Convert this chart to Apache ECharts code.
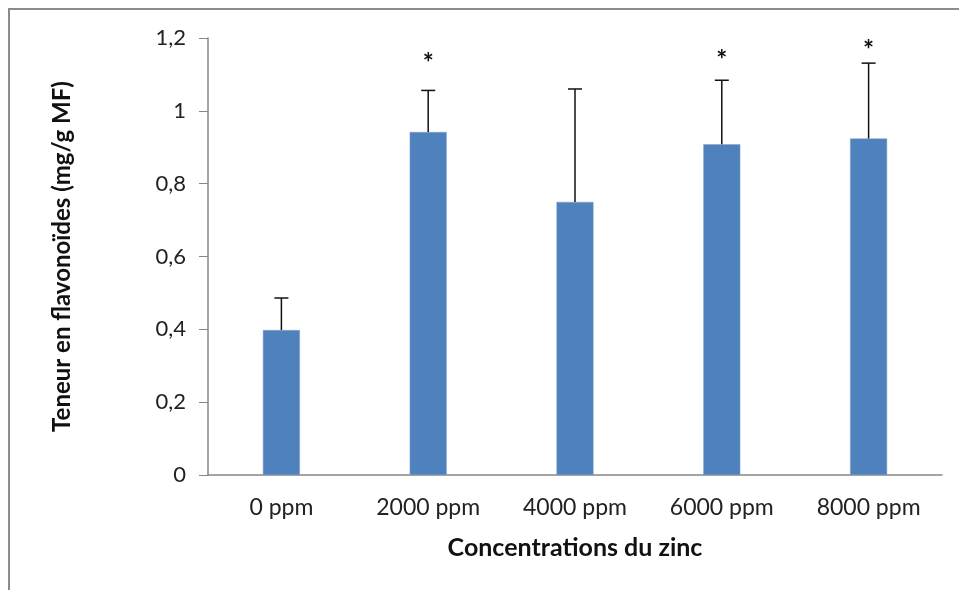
<!DOCTYPE html>
<html><head><meta charset="utf-8">
<script src="https://cdn.jsdelivr.net/npm/echarts@6/dist/echarts.min.js"></script>
<style>html,body{margin:0;padding:0;background:#fff}#c{width:959px;height:590px}</style>
</head><body><div id="c"></div>
<script>
const categories = ['0 ppm', '2000 ppm', '4000 ppm', '6000 ppm', '8000 ppm'];
const means = [0.398, 0.942, 0.750, 0.908, 0.924];
const errors = [0.088, 0.114, 0.310, 0.176, 0.207];
const stars = ['', '*', '', '*', '*'];
const starValues = [null, 1.142, null, 1.148, 1.175];
const yTicks = [0, 0.2, 0.4, 0.6, 0.8, 1, 1.2];

const font = 'Lato, "Open Sans", sans-serif';
const chart = echarts.init(document.getElementById('c'));
chart.setOption({
  animation: false,
  backgroundColor: '#fff',
  graphic: [{
    type: 'rect', shape: {x: 9, y: 9, width: 1000, height: 700},
    style: {fill: 'none', stroke: '#8c8c8c', lineWidth: 2}, silent: true
  }],
  grid: {left: 208, right: 17, top: 38, bottom: 115},
  xAxis: {
    type: 'category', data: categories,
    axisLine: {lineStyle: {color: '#868686', width: 1.5}},
    axisTick: {show: false},
    axisLabel: {color: '#222', fontFamily: font, fontSize: 23, margin: 21},
    name: 'Concentrations du zinc', nameLocation: 'middle', nameGap: 60,
    nameTextStyle: {color: '#111', fontFamily: font, fontSize: 25, fontWeight: 'bold'}
  },
  yAxis: {
    type: 'value', min: 0, max: 1.2, interval: 0.2,
    axisLine: {show: true, lineStyle: {color: '#868686', width: 1.5}},
    axisTick: {show: true, length: 9, lineStyle: {color: '#868686'}},
    splitLine: {show: false},
    axisLabel: {color: '#222', fontFamily: font, fontSize: 22, margin: 22,
      formatter: v => { const t = yTicks.find(x => Math.abs(x - v) < 1e-9); return String(t !== undefined ? t : v).replace('.', ','); }},
    name: 'Teneur en flavonoïdes (mg/g MF)', nameLocation: 'middle', nameGap: 134, nameRotate: 90,
    nameTextStyle: {color: '#111', fontFamily: font, fontSize: 24, fontWeight: 'bold'}
  },
  series: [{
    type: 'bar', data: means, barWidth: 37,
    itemStyle: {color: '#4F81BD', borderColor: '#7aa0cf', borderWidth: 0.5}
  }, {
    type: 'custom',
    data: means.map((m, i) => [i, m, m + errors[i]]),
    renderItem: (params, api) => {
      const p0 = api.coord([api.value(0), api.value(1)]);
      const p1 = api.coord([api.value(0), api.value(2)]);
      const hw = 7;
      return {type: 'group', children: [
        {type: 'line', shape: {x1: p0[0], y1: p0[1], x2: p1[0], y2: p1[1]}, style: {stroke: '#111', lineWidth: 1.5}},
        {type: 'line', shape: {x1: p1[0] - hw, y1: p1[1], x2: p1[0] + hw, y2: p1[1]}, style: {stroke: '#111', lineWidth: 1.5}}
      ]};
    },
    z: 5
  }, {
    type: 'custom',
    data: starValues.map((v, i) => [i, v === null ? 0 : v, stars[i]]),
    renderItem: (params, api) => {
      const i = params.dataIndex;
      if (!stars[i]) return null;
      const p = api.coord([api.value(0), api.value(1)]);
      return {type: 'text', x: p[0], y: p[1] + 4,
        style: {text: stars[i], fill: '#111', font: 'bold 26px ' + font, align: 'center', verticalAlign: 'middle'}};
    },
    z: 6
  }]
});
</script></body></html>
